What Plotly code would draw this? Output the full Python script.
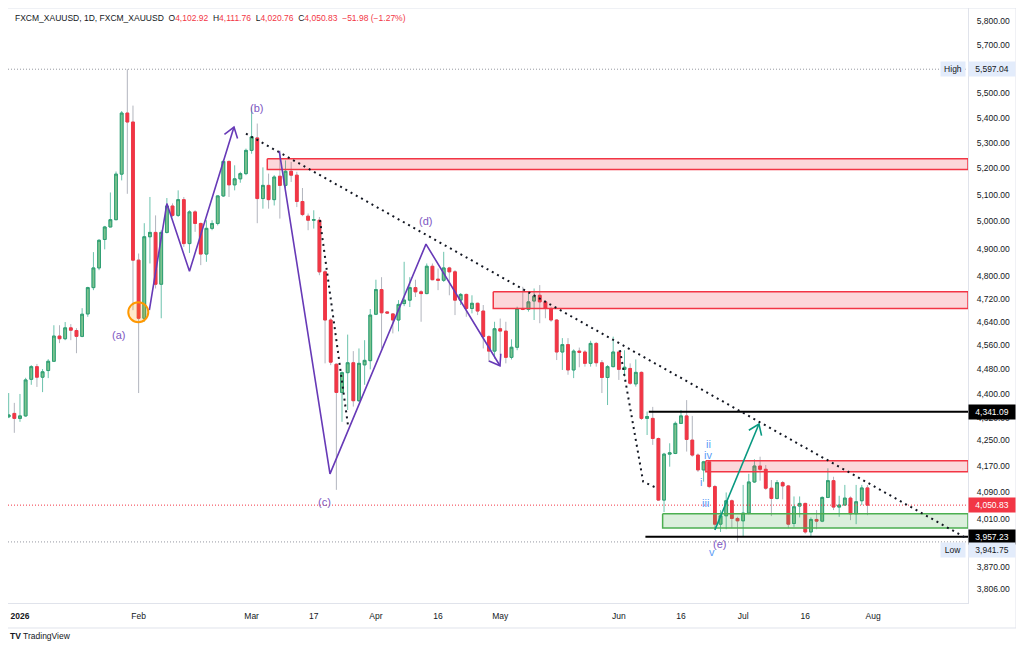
import math
import pandas as pd
import plotly.graph_objects as go

# ------------------------------------------------------------
# Daily candles, 2025-12-30 .. 2026-07-31
# ------------------------------------------------------------
opens = [
    4325, 4336,  # Dec
    4320, 4328, 4447, 4489, 4454, 4476, 4507, 4592, 4583, 4620, 4611, 4591, 4668, 4760, 4830, 4933, 4979, 5006, 5178, 5418, 5382,
    4858, 4653, 4943, 4959, 4772, 4959, 5057, 5022, 5081, 4918, 5035, 4992, 4880, 4974, 4992, 5095, 5227, 5137, 5160, 5180,
    5270, 5319, 5085, 5135, 5081, 5170, 5135, 5189, 5174, 5074, 5019, 5004, 5004, 4816, 4647, 4497, 4404, 4469, 4502, 4377, 4495, 4509,
    4667, 4753, 4675, 4668, 4647, 4704, 4716, 4760, 4745, 4739, 4836, 4790, 4786, 4830, 4816, 4716, 4736, 4687, 4705, 4678, 4590, 4541,
    4617, 4609, 4520, 4554, 4687, 4684, 4713, 4733, 4710, 4687, 4647, 4538, 4563, 4478, 4541, 4538, 4500, 4567, 4502, 4453, 4489,
    4538, 4480, 4483, 4432, 4470, 4320, 4320, 4256, 4066, 4207, 4209, 4304, 4328, 4251, 4204, 4158, 4183, 4107, 3994, 4019, 4064, 4011,
    4004, 4027, 4121, 4170, 4160, 4102, 4071, 4119, 4109, 3996, 4048, 4056, 3971, 4008, 4003, 4074, 4125, 4045, 4051, 4072, 4025, 4064, 4102.92,
]
highs = [
    4402, 4370,
    4399, 4452, 4494, 4498, 4481, 4514, 4629, 4629, 4640, 4633, 4619, 4688, 4763, 4887, 4934, 4983, 5108, 5188, 5426, 5597.04, 5448,
    4882, 4993, 5091, 5022, 4967, 5087, 5067, 5116, 5091, 5041, 5041, 4995, 5004, 5004, 5097, 5233, 5231, 5212, 5187, 5277,
    5441, 5376, 5204, 5180, 5174, 5270, 5231, 5225, 5187, 5125, 5029, 5041, 5016, 4822, 4653, 4500, 4473, 4597, 4541, 4550, 4578, 4685,
    4788, 4797, 4677, 4671, 4716, 4852, 4797, 4788, 4751, 4846, 4846, 4828, 4888, 4834, 4822, 4741, 4739, 4733, 4707, 4699, 4595, 4641,
    4652, 4641, 4581, 4693, 4763, 4745, 4757, 4769, 4716, 4693, 4650, 4585, 4585, 4547, 4553, 4544, 4576, 4572, 4511, 4494, 4590,
    4544, 4544, 4500, 4513, 4473, 4342, 4357, 4259, 4211, 4241, 4310, 4347, 4379, 4328, 4209, 4186, 4186, 4112, 4036, 4089, 4068, 4016,
    4112, 4146, 4191, 4199, 4173, 4127, 4127, 4124, 4112, 4077, 4077, 4058, 4014, 4036, 4077, 4163, 4137, 4079, 4112, 4077, 4112, 4112, 4111.76,
]
lows = [
    4321, 4274,
    4309, 4325, 4429, 4422, 4405, 4451, 4505, 4568, 4578, 4578, 4534, 4588, 4658, 4751, 4822, 4897, 4979, 5004, 5154, 5103, 4681,
    4402, 4641, 4846, 4757, 4653, 4955, 5016, 5016, 4906, 4884, 4961, 4840, 4852, 4967, 4985, 5091, 5091, 5116, 5145, 5174,
    5257, 4993, 5047, 5047, 5059, 5010, 5125, 5148, 5053, 5019, 4967, 4973, 4804, 4500, 4494, 4097, 4309, 4347, 4358, 4373, 4429, 4480,
    4664, 4550, 4668, 4601, 4608, 4695, 4692, 4727, 4641, 4737, 4786, 4751, 4780, 4733, 4664, 4699, 4658, 4670, 4664, 4550, 4505, 4516,
    4528, 4500, 4513, 4544, 4681, 4676, 4647, 4636, 4653, 4641, 4511, 4478, 4462, 4451, 4487, 4489, 4489, 4489, 4402, 4363, 4487,
    4445, 4456, 4429, 4423, 4315, 4267, 4236, 4064, 4030, 4168, 4207, 4302, 4215, 4199, 4152, 4122, 4102, 3977, 3971, 3979, 3982, 3941.75,
    3957.23, 4023, 4118, 4125, 4097, 4018, 4068, 4068, 3982, 3986, 4014, 3966, 3956, 3979, 4000, 4072, 4036, 4016, 4050, 4006, 3994, 4051, 4020.76,
]
closes = [
    4331, 4320,
    4328, 4445, 4489, 4454, 4472, 4507, 4592, 4583, 4620, 4612, 4591, 4667, 4760, 4830, 4930, 4979, 5006, 5178, 5418, 5382, 4858,
    4653, 4943, 4959, 4772, 4959, 5057, 5022, 5081, 4918, 5035, 4992, 4880, 4974, 4992, 5095, 5227, 5137, 5160, 5180, 5270,
    5323, 5085, 5135, 5081, 5167, 5135, 5189, 5174, 5074, 5025, 5004, 5006, 4816, 4647, 4504, 4404, 4469, 4502, 4377, 4500, 4510, 4664,
    4753, 4672, 4671, 4647, 4701, 4716, 4760, 4745, 4739, 4836, 4788, 4786, 4830, 4816, 4716, 4736, 4687, 4705, 4678, 4590, 4541, 4617,
    4609, 4520, 4554, 4687, 4684, 4710, 4730, 4710, 4687, 4647, 4538, 4563, 4478, 4541, 4537, 4500, 4567, 4502, 4453, 4489, 4538,
    4480, 4487, 4434, 4470, 4320, 4326, 4256, 4066, 4207, 4211, 4304, 4328, 4253, 4204, 4158, 4183, 4107, 3994, 4019, 4064, 4011, 4004,
    4027, 4121, 4170, 4160, 4102, 4071, 4119, 4109, 3994, 4046, 4056, 3971, 4008, 4003, 4074, 4125, 4045, 4051, 4072, 4025, 4061, 4102.81, 4050.83,
]

# price scale
y_ticks = [5800, 5700, 5500, 5400, 5300, 5200, 5100, 5000, 4900, 4800, 4720, 4640,
           4560, 4480, 4400, 4320, 4250, 4170, 4090, 4010, 3870, 3806]
x_tick_dates = ["2026-01-02", "2026-02-02", "2026-03-02", "2026-03-17", "2026-04-01", "2026-04-16",
                "2026-05-01", "2026-06-01", "2026-06-16", "2026-07-01", "2026-07-16", "2026-08-03"]
x_tick_text = ["<b>2026</b>", "Feb", "Mar", "17", "Apr", "16", "May", "Jun", "16", "Jul", "16", "Aug"]

high_mark = 5597.04
low_mark = 3941.75
level_top = 4341.09
level_bot = 3957.23

# drawings: (bar index, price); bar 0 = 2026-01-02
wave_ab = [(22.9, 4681), (26.0, 5066), (30.0, 4818), (37.88, 5362)]
wave_ab_head = [(36.19, 5333), (37.88, 5362), (38.51, 5317)]
wave_cd = [(45.89, 5267), (54.87, 4146), (71.86, 4916), (84.96, 4492)]
wave_cd_head = [(83.01, 4508), (84.96, 4492), (85.1, 4532)]
teal_arrow = [(123.0, 3977), (130.8, 4302)]
teal_head = [(129.01, 4282), (130.8, 4302), (131.26, 4265)]
trend_line = [(40.0, 5336), (167.8, 3950)]
dots_c = [(53.1, 5004), (58.05, 4299)]
dots_e = [(106.2, 4544), (110.3, 4122), (112.4, 4105)]

zones = [  # left bar, top, bottom, colour
    (43.77, 5237, 5196, "red"),
    (83.77, 4745, 4687, "red"),
    (121.4, 4186, 4152, "red"),
    (113.75, 4025, 3983, "green"),
]
wave_labels = [("(a)", 17.47, 4595), ("(b)", 41.95, 5437), ("(c)", 53.98, 4060),
               ("(d)", 71.86, 5000), ("(e)", 123.9, 3936)]
sub_labels = [("ii", 121.8, 4240), ("iv", 121.8, 4205), ("i", 120.6, 4121),
              ("iii", 121.4, 4058), ("v", 122.5, 3913)]
circle_a = (20.94, 4674)

# ------------------------------------------------------------
# calendar: weekdays, New Year's day closed
# ------------------------------------------------------------
cal = pd.bdate_range("2025-12-29", "2026-09-30")
cal = cal[cal != pd.Timestamp("2026-01-01")]
bars = cal[1:1 + len(opens)]


def bx(f):
    k = math.floor(f)
    return cal[k + 3] + pd.Timedelta(days=f - k)


X_LEFT, X_RIGHT = -2.12, 167.8
RED = "#f23645"
PURPLE = "#673ab7"
TEAL = "#089981"

fig = go.Figure()

# wicks (grey for down, teal for up) then bodies on top
fig.add_trace(go.Candlestick(
    x=bars, open=opens, high=highs, low=lows, close=closes,
    increasing=dict(line=dict(color="#6cc3ad", width=1), fillcolor="#6cc3ad"),
    decreasing=dict(line=dict(color="#b2b5be", width=1), fillcolor="#b2b5be"),
    whiskerwidth=0, hoverinfo="skip", showlegend=False))
fig.add_trace(go.Candlestick(
    x=bars, open=opens, close=closes,
    high=[max(o, c) for o, c in zip(opens, closes)],
    low=[min(o, c) for o, c in zip(opens, closes)],
    increasing=dict(line=dict(color="#2f9e72", width=1), fillcolor="#7cc38e"),
    decreasing=dict(line=dict(color=RED, width=1), fillcolor=RED),
    whiskerwidth=0, hoverinfo="skip", showlegend=False))


def path(points, color, width, dash=None):
    return go.Scatter(x=[bx(b) for b, _ in points], y=[p for _, p in points], mode="lines",
                      line=dict(color=color, width=width, dash=dash),
                      hoverinfo="skip", showlegend=False)


# zones
for left, top, bot, kind in zones:
    line_c = RED if kind == "red" else "#4caf50"
    fill_c = "rgba(242,54,69,0.2)" if kind == "red" else "rgba(76,175,80,0.2)"
    xs = [bx(left), bx(X_RIGHT), bx(X_RIGHT), bx(left), bx(left)]
    fig.add_trace(go.Scatter(x=xs, y=[top, top, bot, bot, top], mode="lines", fill="toself",
                             fillcolor=fill_c, line=dict(color=line_c, width=1.5),
                             hoverinfo="skip", showlegend=False))

# high / low / last price dotted lines
fig.add_trace(path([(X_LEFT, high_mark), (X_RIGHT, high_mark)], "#9598a1", 1, "1px,2px"))
fig.add_trace(path([(X_LEFT, low_mark), (X_RIGHT, low_mark)], "#9598a1", 1, "1px,2px"))
fig.add_trace(path([(X_LEFT, closes[-1]), (X_RIGHT, closes[-1])], RED, 1, "1px,2px"))

# horizontal levels
fig.add_trace(path([(111.3, level_top), (X_RIGHT, level_top)], "#000000", 2))
fig.add_trace(path([(110.7, level_bot), (X_RIGHT, level_bot)], "#000000", 2))

# dotted trend lines
for pts in (trend_line, dots_c, dots_e):
    fig.add_trace(path(pts, "#131722", 2, "2px,4px"))

# waves
for pts in (wave_ab, wave_ab_head, wave_cd, wave_cd_head):
    fig.add_trace(path(pts, PURPLE, 1.6))
for pts in (teal_arrow, teal_head):
    fig.add_trace(path(pts, TEAL, 1.6))

# orange circle at (a)
fig.add_trace(go.Scatter(x=[bx(circle_a[0])], y=[circle_a[1]], mode="markers",
                         marker=dict(size=20, color="rgba(255,152,0,0.2)",
                                     line=dict(color="#ff9800", width=2)),
                         hoverinfo="skip", showlegend=False))

annotations = []
for txt, b, p in wave_labels:
    annotations.append(dict(x=bx(b), y=math.log10(p), xref="x", yref="y", text=txt, showarrow=False,
                            font=dict(size=11, color="#7e57c2")))
for txt, b, p in sub_labels:
    annotations.append(dict(x=bx(b), y=math.log10(p), xref="x", yref="y", text=txt, showarrow=False,
                            font=dict(size=11, color="#5b9cf6")))

# header
hdr_red = "<span style='color:%s'>" % RED
chg = closes[-1] - closes[-2]
pct = chg / closes[-2] * 100
nb = "\u00a0\u00a0"
header = ("FXCM_XAUUSD, 1D, FXCM_XAUUSD" + nb +
          "O" + hdr_red + f"{opens[-1]:,.2f}</span>" + nb +
          "H" + hdr_red + f"{highs[-1]:,.2f}</span>" + nb +
          "L" + hdr_red + f"{lows[-1]:,.2f}</span>" + nb +
          "C" + hdr_red + f"{closes[-1]:,.2f}</span>" + nb +
          hdr_red + f"\u2212{abs(chg):.2f} (\u2212{abs(pct):.2f}%)</span>")
annotations.append(dict(x=0.005, y=0.983, xref="paper", yref="paper", text=header, showarrow=False,
                        xanchor="left", yanchor="middle", font=dict(size=8.5, color="#131722")))


# price-scale labels
def scale_label(price, bg, fg, shift=0):
    return dict(x=1.0, y=math.log10(price), xref="paper", yref="y", text=f"{price:,.2f}",
                showarrow=False, xanchor="left", yanchor="middle", width=44, height=12,
                bgcolor=bg, font=dict(size=8.5, color=fg), yshift=shift)


annotations += [
    scale_label(high_mark, "#e3ecfb", "#131722"),
    scale_label(level_top, "#000000", "#ffffff"),
    scale_label(closes[-1], RED, "#ffffff"),
    scale_label(level_bot, "#000000", "#ffffff"),
    scale_label(low_mark, "#e3ecfb", "#131722", -8),
    dict(x=0.998, y=math.log10(high_mark), xref="paper", yref="y", text="High", showarrow=False,
         xanchor="right", yanchor="middle", width=22, height=12, bgcolor="#e3ecfb",
         font=dict(size=8.5, color="#131722")),
    dict(x=0.998, y=math.log10(low_mark), xref="paper", yref="y", text="Low", showarrow=False,
         xanchor="right", yanchor="middle", width=22, height=12, bgcolor="#e3ecfb",
         font=dict(size=8.5, color="#131722"), yshift=-8),
    dict(x=0.0, y=-0.0555, xref="paper", yref="paper", text="<b>TV</b> TradingView", showarrow=False,
         xanchor="left", yanchor="middle", font=dict(size=8.5, color="#131722")),
]

# the page adds an 8px body margin, so the figure is 8px smaller on each side
fig.update_layout(
    width=1016, height=642,
    margin=dict(l=0, r=56, t=0, b=47),
    paper_bgcolor="white", plot_bgcolor="white",
    font=dict(family="Liberation Sans, Arial, sans-serif", size=8.5, color="#131722"),
    showlegend=False, hovermode=False,
    xaxis=dict(
        type="date",
        range=[bx(X_LEFT), bx(X_RIGHT)],
        rangebreaks=[dict(bounds=["sat", "mon"]), dict(values=["2026-01-01"])],
        rangeslider=dict(visible=False),
        tickvals=x_tick_dates, ticktext=x_tick_text,
        showgrid=False, ticks="", showline=True, linecolor="#e0e3eb",
        ticklabelstandoff=5, tickfont=dict(size=8.5, color="#131722"),
    ),
    yaxis=dict(
        type="log", side="right",
        range=[math.log10(3767.2), math.log10(5857.0)],
        tickvals=y_ticks, ticktext=[f"{v:,.2f}" for v in y_ticks],
        showgrid=False, ticks="", showline=True, linecolor="#e0e3eb", zeroline=False,
        ticklabelstandoff=6, tickfont=dict(size=8.5, color="#131722"),
    ),
    annotations=annotations,
    shapes=[dict(type="rect", xref="paper", yref="paper", x0=-0.001, x1=1.05, y0=-0.042, y1=1.0,
                 line=dict(color="#e0e3eb", width=1), layer="below")],
)

fig.write_html("out.html")
